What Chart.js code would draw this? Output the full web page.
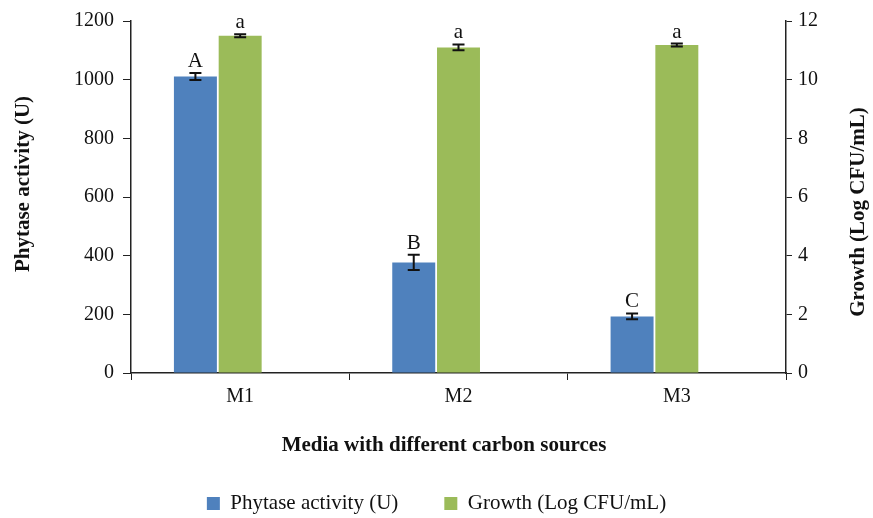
<!DOCTYPE html>
<html>
<head>
<meta charset="utf-8">
<script src="https://cdn.jsdelivr.net/npm/chart.js@4"></script>
<style>
  body { margin: 0; background: #fff; }
  #wrap { width: 873px; height: 518px; }
</style>
</head>
<body>
<div id="wrap"><canvas id="myChart" width="873" height="518"></canvas></div>
<script>
const categories = ['M1', 'M2', 'M3'];
const phytase = [1011, 377, 193];
const phytaseErr = [12, 26, 10];
const phytaseLetters = ['A', 'B', 'C'];
const growth = [11.5, 11.1, 11.18];
const growthErr = [0.05, 0.1, 0.05];
const growthLetters = ['a', 'a', 'a'];
const leftTicks = [0, 200, 400, 600, 800, 1000, 1200];
const rightTicks = [0, 2, 4, 6, 8, 10, 12];

const serif = "'Liberation Serif', 'Times New Roman', serif";

// error bars + significance letters on top of each bar
const errorBars = {
    id: 'errorBars',
    afterDatasetsDraw(chart) {
        const ctx = chart.ctx;
        chart.data.datasets.forEach((ds, i) => {
            if (!ds.errors) return;
            const meta = chart.getDatasetMeta(i);
            const scale = chart.scales[ds.yAxisID];
            meta.data.forEach((bar, j) => {
                const v = ds.data[j];
                const e = ds.errors[j];
                const top = scale.getPixelForValue(v + e);
                const bot = scale.getPixelForValue(v - e);
                ctx.save();
                ctx.strokeStyle = '#111';
                ctx.lineWidth = 2;
                ctx.beginPath();
                ctx.moveTo(bar.x, top);
                ctx.lineTo(bar.x, bot);
                ctx.moveTo(bar.x - 6, top);
                ctx.lineTo(bar.x + 6, top);
                ctx.moveTo(bar.x - 6, bot);
                ctx.lineTo(bar.x + 6, bot);
                ctx.stroke();
                ctx.fillStyle = '#111';
                ctx.font = '21px ' + serif;
                ctx.textAlign = 'center';
                ctx.textBaseline = 'alphabetic';
                ctx.fillText(ds.letters[j], bar.x, top - 6);
                ctx.restore();
            });
        });
    }
};

// axis titles drawn by hand so the right one reads bottom-to-top like the left one
const axisTitles = {
    id: 'axisTitles',
    afterDraw(chart) {
        const ctx = chart.ctx;
        ctx.save();
        ctx.fillStyle = '#111';
        ctx.font = 'bold 21px ' + serif;
        ctx.textAlign = 'center';
        ctx.textBaseline = 'middle';

        ctx.save();
        ctx.translate(24, 184);
        ctx.rotate(-Math.PI / 2);
        ctx.fillText('Phytase activity (U)', 0, 0);
        ctx.restore();

        ctx.save();
        ctx.translate(859, 212);
        ctx.rotate(-Math.PI / 2);
        ctx.fillText('Growth (Log CFU/mL)', 0, 0);
        ctx.restore();

        ctx.fillText('Media with different carbon sources', 444, 446);
        ctx.restore();
    }
};

new Chart(document.getElementById('myChart'), {
    type: 'bar',
    data: {
        labels: categories,
        datasets: [{
            label: 'Phytase activity (U)',
            data: phytase,
            errors: phytaseErr,
            letters: phytaseLetters,
            backgroundColor: '#4F81BD',
            yAxisID: 'y'
        }, {
            label: 'Growth (Log CFU/mL)',
            data: growth,
            errors: growthErr,
            letters: growthLetters,
            backgroundColor: '#9BBB59',
            yAxisID: 'y1'
        }, {
            // empty slot so the green bar sits on the category centre, as in the original
            label: '',
            data: [null, null, null],
            yAxisID: 'y1'
        }]
    },
    options: {
        responsive: false,
        animation: false,
        layout: { padding: { top: 19, bottom: -6, left: 0, right: 0 } },
        datasets: {
            bar: { categoryPercentage: 0.615, barPercentage: 0.96 }
        },
        plugins: {
            tooltip: { enabled: false },
            legend: {
                position: 'bottom',
                labels: {
                    color: '#111',
                    font: { family: serif, size: 21 },
                    boxWidth: 13,
                    boxHeight: 13,
                    padding: 46,
                    filter: item => item.text !== ''
                }
            }
        },
        scales: {
            x: {
                grid: { display: true, drawOnChartArea: false, drawTicks: true, tickLength: 7, color: '#222', offset: true },
                border: { display: true, color: '#222', width: 1.5 },
                ticks: { color: '#111', font: { family: serif, size: 20 }, padding: 5 },
                afterFit(scale) { scale.height = 74; }
            },
            y: {
                position: 'left',
                min: 0,
                max: 1200,
                afterBuildTicks(scale) { scale.ticks = leftTicks.map(v => ({ value: v })); },
                grid: { display: true, drawOnChartArea: false, drawTicks: true, tickLength: 8, color: '#222' },
                border: { display: true, color: '#222', width: 1.5 },
                ticks: { color: '#111', font: { family: serif, size: 20 }, padding: 9, callback: v => String(v) },
                afterFit(scale) { scale.width = 131; }
            },
            y1: {
                position: 'right',
                min: 0,
                max: 12,
                afterBuildTicks(scale) { scale.ticks = rightTicks.map(v => ({ value: v })); },
                grid: { display: true, drawOnChartArea: false, drawTicks: true, tickLength: 6, color: '#222' },
                border: { display: true, color: '#222', width: 1.5 },
                ticks: { color: '#111', font: { family: serif, size: 20 }, padding: 6, callback: v => String(v) },
                afterFit(scale) { scale.width = 87; }
            }
        }
    },
    plugins: [errorBars, axisTitles]
});
</script>
</body>
</html>
